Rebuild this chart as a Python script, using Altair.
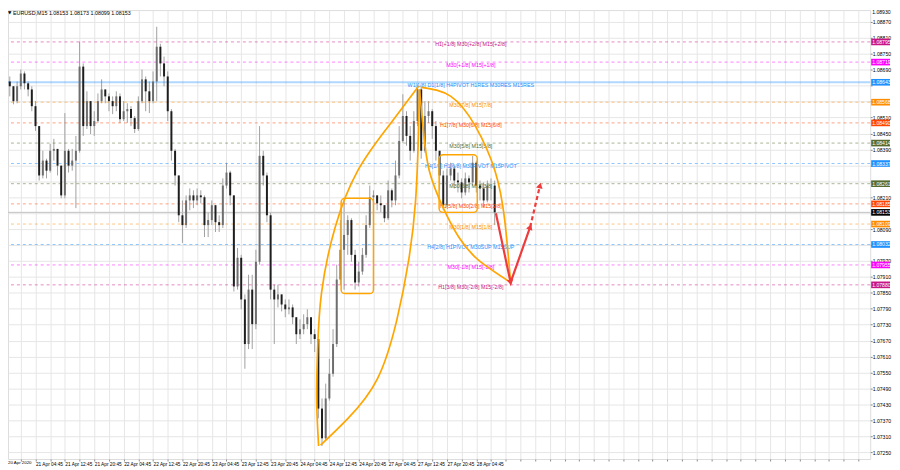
import json
import altair as alt
import pandas as pd

# ---------------- data (hourly candles) ----------------
OPEN = [1.08684, 1.08646, 1.08628, 1.08572, 1.08628, 1.08676, 1.08639, 1.08616, 1.08553, 1.08478,
        1.08292, 1.08348, 1.08310, 1.08385, 1.08392, 1.08329, 1.08217, 1.08385, 1.08329, 1.08348,
        1.08385, 1.08702, 1.08478, 1.08572, 1.08478, 1.08497, 1.08572, 1.08616, 1.08590, 1.08572,
        1.08553, 1.08590, 1.08504, 1.08534, 1.08542, 1.08508, 1.08467, 1.08572, 1.08654, 1.08609,
        1.08572, 1.08646, 1.08777, 1.08714, 1.08665, 1.08534, 1.08385, 1.08292, 1.08142, 1.08105,
        1.08198, 1.08217, 1.08198, 1.08217, 1.08210, 1.08105, 1.08124, 1.08180, 1.08116, 1.08105,
        1.08254, 1.08303, 1.08217, 1.07874, 1.07982, 1.07825, 1.07657, 1.07862, 1.07732, 1.07967,
        1.08366, 1.08292, 1.08142, 1.07862, 1.07825, 1.07844, 1.07806, 1.07788, 1.07795, 1.07758,
        1.07694, 1.07713, 1.07732, 1.07758, 1.07694, 1.07676, 1.07414, 1.07302, 1.07452, 1.07545,
        1.07657, 1.07900, 1.08012, 1.08068, 1.08124, 1.07993, 1.07889, 1.07930, 1.07993, 1.08105,
        1.08210, 1.08217, 1.08187, 1.08180, 1.08131, 1.08236, 1.08198, 1.08292, 1.08422, 1.08516,
        1.08441, 1.08385, 1.08497, 1.08616, 1.08385, 1.08516, 1.08534, 1.08478, 1.08385, 1.08292,
        1.08180, 1.08292, 1.08318, 1.08273, 1.08266, 1.08228, 1.08281, 1.08266, 1.08340, 1.08254,
        1.08243, 1.08198, 1.08254, 1.08254]
HIGH = [1.08702, 1.08665, 1.08628, 1.08646, 1.08691, 1.08684, 1.08646, 1.08628, 1.08572, 1.08478,
        1.08385, 1.08355, 1.08411, 1.08430, 1.08392, 1.08329, 1.08527, 1.08392, 1.08392, 1.08441,
        1.08796, 1.08714, 1.08609, 1.08572, 1.08534, 1.08601, 1.08654, 1.08616, 1.08601, 1.08590,
        1.08609, 1.08601, 1.08572, 1.08564, 1.08553, 1.08516, 1.08590, 1.08691, 1.08665, 1.08646,
        1.08684, 1.08852, 1.08788, 1.08740, 1.08684, 1.08542, 1.08392, 1.08292, 1.08198, 1.08217,
        1.08243, 1.08236, 1.08243, 1.08236, 1.08217, 1.08153, 1.08198, 1.08180, 1.08142, 1.08281,
        1.08340, 1.08310, 1.08217, 1.08019, 1.07993, 1.07844, 1.07918, 1.07918, 1.08012, 1.08478,
        1.08385, 1.08303, 1.08153, 1.07881, 1.07881, 1.07844, 1.07825, 1.07825, 1.07806, 1.07758,
        1.07750, 1.07769, 1.07788, 1.07758, 1.07713, 1.07676, 1.07452, 1.07508, 1.07601, 1.07713,
        1.07956, 1.08124, 1.08198, 1.08142, 1.08131, 1.08012, 1.07967, 1.08019, 1.08142, 1.08254,
        1.08236, 1.08217, 1.08217, 1.08180, 1.08273, 1.08243, 1.08348, 1.08478, 1.08598, 1.08534,
        1.08478, 1.08534, 1.08635, 1.08628, 1.08572, 1.08572, 1.08542, 1.08497, 1.08385, 1.08310,
        1.08318, 1.08340, 1.08329, 1.08303, 1.08281, 1.08303, 1.08292, 1.08366, 1.08348, 1.08273,
        1.08266, 1.08273, 1.08281, 1.08273]
LOW = [1.08628, 1.08590, 1.08560, 1.08564, 1.08616, 1.08616, 1.08590, 1.08534, 1.08460, 1.08273,
       1.08281, 1.08281, 1.08303, 1.08348, 1.08292, 1.08206, 1.08206, 1.08303, 1.08310, 1.08169,
       1.08378, 1.08441, 1.08467, 1.08448, 1.08441, 1.08490, 1.08564, 1.08564, 1.08534, 1.08523,
       1.08534, 1.08490, 1.08497, 1.08490, 1.08478, 1.08452, 1.08460, 1.08564, 1.08534, 1.08527,
       1.08564, 1.08572, 1.08665, 1.08628, 1.08497, 1.08348, 1.08254, 1.08116, 1.08038, 1.08094,
       1.08161, 1.08169, 1.08180, 1.08187, 1.08060, 1.08060, 1.08105, 1.08079, 1.08079, 1.08094,
       1.08243, 1.08180, 1.07855, 1.07862, 1.07788, 1.07564, 1.07638, 1.07638, 1.07713, 1.07956,
       1.08254, 1.08116, 1.07825, 1.07657, 1.07795, 1.07780, 1.07758, 1.07769, 1.07732, 1.07657,
       1.07676, 1.07694, 1.07713, 1.07657, 1.07627, 1.07377, 1.07273, 1.07295, 1.07444, 1.07534,
       1.07646, 1.07881, 1.07862, 1.07993, 1.07967, 1.07862, 1.07874, 1.07918, 1.07982, 1.08094,
       1.08180, 1.08161, 1.08153, 1.08116, 1.08124, 1.08172, 1.08180, 1.08281, 1.08415, 1.08404,
       1.08348, 1.08378, 1.08478, 1.08355, 1.08378, 1.08490, 1.08430, 1.08348, 1.08236, 1.08161,
       1.08172, 1.08273, 1.08243, 1.08228, 1.08206, 1.08217, 1.08228, 1.08254, 1.08228, 1.08198,
       1.08172, 1.08191, 1.08198, 1.08105]
CLOSE = [1.08646, 1.08628, 1.08572, 1.08628, 1.08676, 1.08639, 1.08616, 1.08553, 1.08478, 1.08292,
         1.08348, 1.08310, 1.08385, 1.08392, 1.08329, 1.08217, 1.08385, 1.08329, 1.08348, 1.08385,
         1.08702, 1.08478, 1.08572, 1.08478, 1.08497, 1.08572, 1.08616, 1.08590, 1.08572, 1.08553,
         1.08590, 1.08504, 1.08534, 1.08542, 1.08508, 1.08467, 1.08572, 1.08654, 1.08609, 1.08572,
         1.08646, 1.08777, 1.08714, 1.08665, 1.08534, 1.08385, 1.08292, 1.08142, 1.08105, 1.08198,
         1.08217, 1.08198, 1.08217, 1.08210, 1.08105, 1.08124, 1.08180, 1.08116, 1.08105, 1.08254,
         1.08303, 1.08217, 1.07874, 1.07982, 1.07825, 1.07657, 1.07862, 1.07732, 1.07967, 1.08366,
         1.08292, 1.08142, 1.07862, 1.07825, 1.07844, 1.07806, 1.07788, 1.07795, 1.07758, 1.07694,
         1.07713, 1.07732, 1.07758, 1.07694, 1.07676, 1.07414, 1.07302, 1.07452, 1.07545, 1.07657,
         1.07900, 1.08012, 1.08068, 1.08124, 1.07993, 1.07889, 1.07930, 1.07993, 1.08105, 1.08210,
         1.08217, 1.08187, 1.08180, 1.08131, 1.08236, 1.08198, 1.08292, 1.08422, 1.08516, 1.08441,
         1.08385, 1.08497, 1.08616, 1.08385, 1.08516, 1.08534, 1.08478, 1.08385, 1.08292, 1.08180,
         1.08292, 1.08318, 1.08273, 1.08266, 1.08228, 1.08281, 1.08266, 1.08340, 1.08254, 1.08243,
         1.08198, 1.08254, 1.08254, 1.08153]

TIME_LABELS = ["20 Apr 2020", "21 Apr 04:45", "21 Apr 12:45", "21 Apr 20:45", "22 Apr 04:45",
               "22 Apr 12:45", "22 Apr 20:45", "23 Apr 04:45", "23 Apr 12:45", "23 Apr 20:45",
               "24 Apr 04:45", "24 Apr 12:45", "24 Apr 20:45", "27 Apr 04:45", "27 Apr 12:45",
               "27 Apr 20:45", "28 Apr 04:45"]
PRICE_TICKS = [1.07250, 1.07310, 1.07370, 1.07430, 1.07490, 1.07550, 1.07610, 1.07670, 1.07730,
               1.07790, 1.07850, 1.07910, 1.07970, 1.08030, 1.08090, 1.08150, 1.08210, 1.08270,
               1.08330, 1.08390, 1.08450, 1.08510, 1.08570, 1.08630, 1.08690, 1.08750, 1.08810,
               1.08870]
TOP_PRICE_LABEL = "1.08930"

LEVEL_PRICES = [1.08795, 1.08719, 1.08643, 1.08568, 1.08490, 1.08414, 1.08337,
                1.08261, 1.08185, 1.08109, 1.08032, 1.07955, 1.07880]
LEVEL_TEXTS = ["H1[+1/8] M30[+2/8] M15[+2/8]", "M30[+1/8] M15[+1/8]",
               "W1[1/8] D1[1/8] H4PIVOT H1RES M30RES M15RES", "M30[7/8] M15[7/8]",
               "H1[7/8] M30[6/8] M15[6/8]", "M30[5/8] M15[5/8]",
               "H4[1/8] H1[6/8] M30PIVOT M15PIVOT", "M30[3/8] M15[3/8]",
               "H1[5/8] M30[2/8] M15[2/8]", "M30[1/8] M15[1/8]",
               "H4[2/8] H1PIVOT M30SUP M15SUP", "M30[-1/8] M15[-1/8]",
               "H1[3/8] M30[-2/8] M15[-2/8]"]
LEVEL_COLORS = ["#C71585", "#FF00FF", "#1E90FF", "#FF8C00", "#FF4500", "#556B2F", "#1E90FF",
                "#556B2F", "#FF4500", "#FF8C00", "#1E90FF", "#FF00FF", "#C71585"]
BID = 1.08153
TITLE = "EURUSD,M15  1.08153 1.08173 1.08099 1.08153"

# hand-drawn annotations (bar index, price)
ARC1_LEFT_I = [85.07, 84.53, 84.8, 85.87, 89.6, 95.73, 103.73, 112.27]
ARC1_LEFT_P = [1.07273, 1.07452, 1.07638, 1.07851, 1.08098, 1.08310, 1.08471, 1.08628]
ARC1_RIGHT_I = [85.6, 93.07, 101.07, 106.4, 109.6, 111.47, 112.27, 112.53]
ARC1_RIGHT_P = [1.07276, 1.07377, 1.07526, 1.07750, 1.07974, 1.08198, 1.08460, 1.08616]
ARC2_OUT_I = [113.07, 121.07, 127.73, 133.07, 135.73, 137.33]
ARC2_OUT_P = [1.08624, 1.08590, 1.08478, 1.08310, 1.08124, 1.07889]
ARC2_IN_I = [112.53, 113.6, 115.2, 118.93, 123.2, 128.53, 137.33]
ARC2_IN_P = [1.08616, 1.08460, 1.08310, 1.08172, 1.08060, 1.07974, 1.07889]
BOX_I0 = [91.2, 117.87]
BOX_I1 = [100.0, 128.27]
BOX_P0 = [1.08206, 1.08370]
BOX_P1 = [1.07847, 1.08153]
ARROW_I = [133.33, 137.33, 142.67, 145.33]
ARROW_P = [1.08150, 1.07889, 1.08098, 1.08254]
ARROW_ANGLES = [168, 20, 13]

# ---------------- scales ----------------
xs = alt.Scale(domain=[1.867, 233.87], nice=False, zero=False)
ys = alt.Scale(domain=[1.07224, 1.08915], nice=False, zero=False)
FONT = "Liberation Sans"
FS = 5.4      # level labels / title
FSY = 5.15    # price axis
FSX = 4.8     # time axis

# price-scale labels that sit under a coloured price tag are hidden (as in the terminal)
tag_prices = LEVEL_PRICES + [BID]
hidden = [t for t in PRICE_TICKS if min(abs(t - p) for p in tag_prices) < 0.000135]

label_js = json.dumps(TIME_LABELS)
x_axis = alt.Axis(
    values=list(range(4, 234, 4)), tickCount=500,
    labelExpr=f"(datum.value % 8 == 0 && datum.value / 8 < {len(TIME_LABELS)}) ? {label_js}[datum.value / 8] : ''",
    title=None, grid=True, gridColor="#e6e6e6", gridWidth=1, domain=False,
    ticks=True, tickSize=2, tickColor="#8a8a8a", labelAlign="left", labelBaseline="top",
    labelPadding=0.5, labelFontSize=FSX, labelFont=FONT, labelColor="#000000",
    labelOverlap=False, labelFlush=False, labelBound=False,
)
y_axis = alt.Axis(
    orient="right", values=PRICE_TICKS, tickCount=500,
    labelExpr=f"indexof({json.dumps(hidden)}, datum.value) >= 0 ? '' : format(datum.value, '.5f')",
    title=None, grid=True,
    gridColor="#e6e6e6", gridWidth=1, domain=False, ticks=True, tickSize=2,
    tickColor="#8a8a8a", labelPadding=0, labelFontSize=FSY, labelFont=FONT,
    labelColor="#000000", labelOverlap=False, labelFlush=False, labelBound=False,
    labelBaseline="middle",
)

candles = pd.DataFrame({"i": list(range(len(CLOSE))), "o": OPEN, "h": HIGH, "l": LOW, "c": CLOSE})
base = alt.Chart(candles)

wicks = base.mark_rule(color="#a0a0a0", strokeWidth=1).encode(
    x=alt.X("i:Q", scale=xs, axis=x_axis),
    y=alt.Y("l:Q", scale=ys, axis=y_axis),
    y2="h:Q",
)
bodies = base.mark_bar(size=2.0).encode(
    x=alt.X("i:Q", scale=xs),
    y=alt.Y("o:Q", scale=ys),
    y2="c:Q",
    color=alt.condition("datum.c >= datum.o", alt.value("#6e6e6e"), alt.value("#1e1e1e")),
)

levels = pd.DataFrame({"p": LEVEL_PRICES, "t": LEVEL_TEXTS, "col": LEVEL_COLORS,
                       "k": list(range(len(LEVEL_PRICES)))})
lvl_base = alt.Chart(levels)
level_lines = lvl_base.mark_rule(strokeWidth=1, strokeDash=[3, 3], opacity=0.5).encode(
    y=alt.Y("p:Q", scale=ys),
    color=alt.Color("col:N", scale=None),
).transform_filter("datum.k != 2")
w1_line = lvl_base.mark_rule(strokeWidth=2, opacity=0.35).encode(
    y=alt.Y("p:Q", scale=ys),
    color=alt.Color("col:N", scale=None),
).transform_filter("datum.k == 2")
bid_line = alt.Chart(pd.DataFrame({"p": [BID]})).mark_rule(color="#c0c0c0", strokeWidth=1).encode(
    y=alt.Y("p:Q", scale=ys))

level_text = lvl_base.mark_text(align="center", baseline="top", dy=0.5, fontSize=FS, font=FONT).encode(
    x=alt.value(467),
    y=alt.Y("p:Q", scale=ys),
    text="t:N",
    color=alt.Color("col:N", scale=None),
)

# price tags on right axis
tags = pd.DataFrame({"p": tag_prices, "col": LEVEL_COLORS + ["#000000"]})
tag_base = alt.Chart(tags).transform_calculate(
    top="datum.p + 0.000125", bot="datum.p - 0.000125", lab="format(datum.p, '.5f')")
tag_rect = tag_base.mark_rect().encode(
    x=alt.value(871), x2=alt.value(890),
    y=alt.Y("top:Q", scale=ys), y2="bot:Q",
    color=alt.Color("col:N", scale=None),
)
tag_text = tag_base.mark_text(align="left", baseline="middle", fontSize=FSY, font=FONT, color="white").encode(
    x=alt.value(872), y=alt.Y("p:Q", scale=ys), text="lab:N")

# orange curves
def curve(iv, pv, name):
    return pd.DataFrame({"i": iv, "p": pv, "seq": list(range(len(iv))), "g": name})

curves = pd.concat([
    curve(ARC1_LEFT_I, ARC1_LEFT_P, "a"), curve(ARC1_RIGHT_I, ARC1_RIGHT_P, "b"),
    curve(ARC2_OUT_I, ARC2_OUT_P, "c"), curve(ARC2_IN_I, ARC2_IN_P, "d")])
arcs = alt.Chart(curves).mark_line(color="#FFA500", strokeWidth=1.7, interpolate="natural").encode(
    x=alt.X("i:Q", scale=xs), y=alt.Y("p:Q", scale=ys),
    detail="g:N", order="seq:Q")

boxes = alt.Chart(pd.DataFrame({"i0": BOX_I0, "i1": BOX_I1, "p0": BOX_P0, "p1": BOX_P1})).mark_rect(
    fillOpacity=0, stroke="#FFA500", strokeWidth=1.5, cornerRadius=4).encode(
    x=alt.X("i0:Q", scale=xs), x2="i1:Q",
    y=alt.Y("p0:Q", scale=ys), y2="p1:Q")

arrow_df = pd.DataFrame({"i": ARROW_I, "p": ARROW_P, "seq": list(range(len(ARROW_I)))})
arrow_solid = alt.Chart(arrow_df).transform_filter("datum.seq <= 2").mark_line(
    color="#EF3B3B", strokeWidth=2.2).encode(
    x=alt.X("i:Q", scale=xs), y=alt.Y("p:Q", scale=ys), order="seq:Q")
arrow_dash = alt.Chart(arrow_df).transform_filter("datum.seq >= 2").mark_line(
    color="#EF3B3B", strokeWidth=2.2, strokeDash=[4, 3]).encode(
    x=alt.X("i:Q", scale=xs), y=alt.Y("p:Q", scale=ys), order="seq:Q")
heads = alt.Chart(pd.DataFrame({"i": ARROW_I[1:], "p": ARROW_P[1:], "a": ARROW_ANGLES})).mark_point(
    shape="triangle-up", filled=True, size=45, color="#EF3B3B", opacity=1).encode(
    x=alt.X("i:Q", scale=xs), y=alt.Y("p:Q", scale=ys),
    angle=alt.Angle("a:Q", scale=None))

title_df = pd.DataFrame({"t": [TITLE]})
title_icon = alt.Chart(title_df).mark_text(
    align="left", baseline="middle", fontSize=4.5, font="DejaVu Sans", color="#000000", text="\u25BC").encode(
    x=alt.value(0), y=alt.value(3))
title_txt = alt.Chart(title_df).mark_text(
    align="left", baseline="middle", fontSize=FS, font=FONT, color="#000000").encode(
    x=alt.value(5), y=alt.value(3), text="t:N")

# first time label and top price label (their grid positions fall in the page margin)
first_time = alt.Chart(pd.DataFrame({"t": [TIME_LABELS[0]]})).mark_text(
    align="left", baseline="top", fontSize=4.4, font=FONT, color="#000000").encode(
    x=alt.value(0), y=alt.value(455.5), text="t:N")
top_price = alt.Chart(pd.DataFrame({"t": [TOP_PRICE_LABEL]})).mark_text(
    align="left", baseline="top", fontSize=FSY, font=FONT, color="#000000").encode(
    x=alt.value(872), y=alt.value(0), text="t:N")

chart = alt.layer(
    wicks, level_lines, w1_line, bid_line, bodies, level_text, arcs, boxes,
    arrow_solid, arrow_dash, heads, tag_rect, tag_text, title_icon, title_txt,
    first_time, top_price,
).resolve_scale(x="shared", y="shared").properties(
    width=870, height=453,
    autosize=alt.AutoSizeParams(type="none"),
    padding={"left": 0, "top": 0, "right": 22, "bottom": 9},
).configure_view(stroke="#8c8c8c", strokeWidth=1).configure(background="white")

chart.save("out.html", embed_options={"renderer": "svg", "actions": False})
